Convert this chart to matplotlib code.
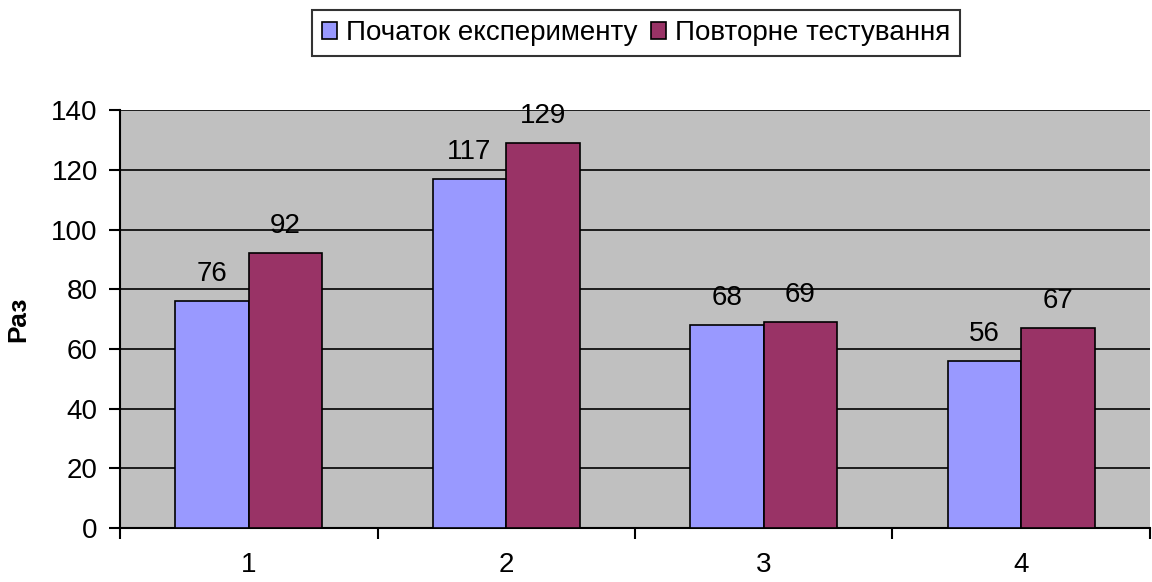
import matplotlib.pyplot as plt
import numpy as np

plt.rcParams['font.family'] = ['Liberation Sans', 'DejaVu Sans']

categories = ['1', '2', '3', '4']
start = [76, 117, 68, 56]
retest = [92, 129, 69, 67]
series_names = ['Початок експерименту', 'Повторне тестування']

fig = plt.figure(figsize=(11.52, 5.82), dpi=100)
ax = fig.add_axes([0.1042, 0.0928, 0.894, 0.718])
ax.set_facecolor('#C0C0C0')

x = np.arange(len(categories))
w = 1 / 3.5
b1 = ax.bar(x - w / 2, start, w, color='#9999FF', edgecolor='black', linewidth=1.2,
            label=series_names[0], zorder=3)
b2 = ax.bar(x + w / 2, retest, w, color='#993366', edgecolor='black', linewidth=1.2,
            label=series_names[1], zorder=3)
for bars in (b1, b2):
    ax.bar_label(bars, padding=10, fontsize=20)

ax.set_xlim(-0.5, 3.5)
ax.set_ylim(0, 140)
ax.set_yticks(range(0, 141, 20))
ax.grid(axis='y', color='black', linewidth=1.2, zorder=1)
ax.set_xticks(x)
ax.set_xticklabels(categories)
ax.set_xticks(np.arange(-0.5, 4, 1), minor=True)
ax.tick_params(axis='x', which='major', length=0, pad=17, labelsize=20)
ax.tick_params(axis='x', which='minor', length=8, width=1.5, direction='out')
ax.tick_params(axis='y', length=8, width=1.5, direction='out', labelsize=20, pad=8)
for s in ('top', 'right'):
    ax.spines[s].set_visible(False)
for s in ('left', 'bottom'):
    ax.spines[s].set_linewidth(1.5)
ax.set_ylabel('Раз', fontsize=19, fontweight='bold')
ax.yaxis.set_label_coords(-0.087, 0.5)

leg = fig.legend(loc='center', bbox_to_anchor=(0.552, 0.943), ncol=2, fontsize=20,
                 frameon=True, fancybox=False, edgecolor='black', handlelength=0.55,
                 handleheight=0.55, handletextpad=0.3, columnspacing=0.5,
                 borderpad=0.35)
leg.get_frame().set_linewidth(1.5)

fig.savefig('out.png', dpi=100)
